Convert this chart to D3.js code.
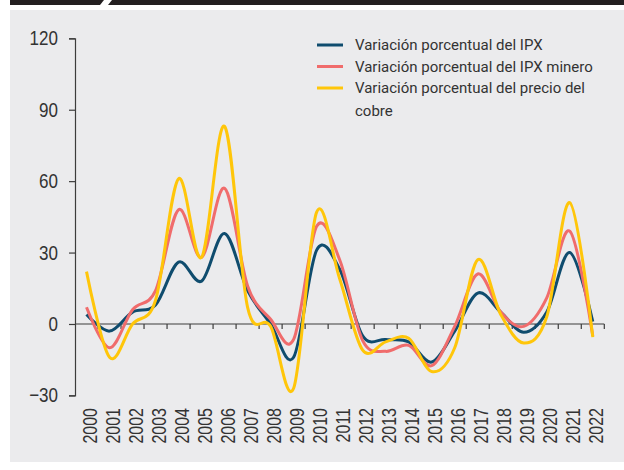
<!DOCTYPE html>
<html>
<head>
<meta charset="utf-8">
<script src="https://cdn.jsdelivr.net/npm/d3@7"></script>
<style>
  html, body { margin: 0; padding: 0; background: #ffffff; }
  svg { display: block; }
</style>
</head>
<body>
<svg id="chart" width="624" height="470"></svg>
<script>
const years = ["2000","2001","2002","2003","2004","2005","2006","2007","2008","2009","2010","2011",
               "2012","2013","2014","2015","2016","2017","2018","2019","2020","2021","2022"];
const ipx = [4, -3, 5, 8, 26, 18, 38, 14, 0, -14, 31, 23, -5, -6.5, -7.5, -16, -3, 13, 5, -3.5, 5, 30, 1];
const ipxMinero = [7, -10, 6, 14, 48, 28, 57, 16, 2, -6.5, 41, 27, -7, -11.5, -9, -17.5, -1, 21, 5, -1, 11, 39, -5];
const cobre = [22, -14, 0, 10, 61, 28, 83, 7, -1, -27, 47, 19, -11, -7.5, -6, -20, -10, 27, 4, -8, 3, 51, -5.5];
const yTicks = [-30, 0, 30, 60, 90, 120];
const seriesNames = ["Variación porcentual del IPX", "Variación porcentual del IPX minero", "Variación porcentual del precio del cobre"];

const colors = ["#0f4c6e", "#f06c6c", "#ffc60a"];
const seriesData = [ipx, ipxMinero, cobre];

const svg = d3.select("#chart");

// background panel and top bar
svg.append("rect").attr("x", 10).attr("y", 10).attr("width", 614).attr("height", 452).attr("fill", "#ebebed");
svg.append("polygon").attr("points", "10,0 104,0 100,5 10,5").attr("fill", "#231f20");
svg.append("polygon").attr("points", "112,0 624,0 624,5 108,5").attr("fill", "#231f20");

const x = d3.scaleBand().domain(years).range([75, 604.3]);
const y = d3.scaleLinear().domain([-30, 120]).range([395.4, 38.3]);

function condense(sel, factor) {
  sel.each(function () {
    const len = this.getComputedTextLength();
    d3.select(this).attr("textLength", len * factor).attr("lengthAdjust", "spacingAndGlyphs");
  });
}

const axisColor = "#3c3c3c";
const textColor = "#333333";
const axisFont = "'Liberation Sans Narrow', 'Arial Narrow', sans-serif";

// y axis
const yAxis = svg.append("g").attr("transform", "translate(75,0)")
  .call(d3.axisLeft(y).tickValues(yTicks).tickSize(6).tickPadding(11).tickFormat(d3.format("d")));
yAxis.select(".domain").attr("stroke", axisColor).attr("stroke-width", 1.2);
yAxis.selectAll(".tick line").attr("stroke", axisColor).attr("stroke-width", 1.2);
yAxis.selectAll(".tick text").attr("font-family", axisFont).attr("font-size", "20.5px")
  .attr("fill", textColor).call(condense, 0.83);

// x axis at zero
const xAxisG = svg.append("g").attr("transform", `translate(0,${y(0)})`);
xAxisG.append("line").attr("x1", 75).attr("x2", x.range()[1]).attr("y1", 0).attr("y2", 0)
  .attr("stroke", axisColor).attr("stroke-width", 1.2);
xAxisG.selectAll("line.tk").data(years).enter().append("line").attr("class", "tk")
  .attr("x1", d => x(d) + x.bandwidth()).attr("x2", d => x(d) + x.bandwidth())
  .attr("y1", 0).attr("y2", 5).attr("stroke", axisColor).attr("stroke-width", 1.2);

// x labels (rotated, placed below the plot)
svg.append("g").selectAll("text").data(years).enter().append("text")
  .attr("transform", d => `translate(${x(d) + x.bandwidth() / 2 + 10},408) rotate(-90)`)
  .attr("text-anchor", "end")
  .attr("font-family", axisFont).attr("font-size", "19.5px").attr("fill", textColor)
  .text(d => d).call(condense, 0.82);

// lines
const line = d3.line()
  .x((d, i) => x(years[i]) + x.bandwidth() / 2)
  .y(d => y(d))
  .curve(d3.curveCatmullRom.alpha(0));

seriesData.forEach((s, k) => {
  svg.append("path").datum(s).attr("d", line).attr("fill", "none")
    .attr("stroke", colors[k]).attr("stroke-width", 3).attr("stroke-linejoin", "round");
});

// legend
const legendFont = "Roboto, 'Noto Sans', sans-serif";
const legY = [45, 66.5, 88];
const leg = svg.append("g");
seriesNames.forEach((name, k) => {
  leg.append("line").attr("x1", 317).attr("x2", 343).attr("y1", legY[k]).attr("y2", legY[k])
    .attr("stroke", colors[k]).attr("stroke-width", 3);
});
const legLines = [[seriesNames[0]], [seriesNames[1]], ["Variación porcentual del precio del", "cobre"]];
legLines.forEach((parts, k) => {
  parts.forEach((p, j) => {
    leg.append("text").attr("x", 355).attr("y", legY[k] + j * 22.5).attr("dy", "0.35em")
      .attr("font-family", legendFont).attr("font-size", "15px").attr("fill", textColor)
      .text(p);
  });
});
</script>
</body>
</html>
